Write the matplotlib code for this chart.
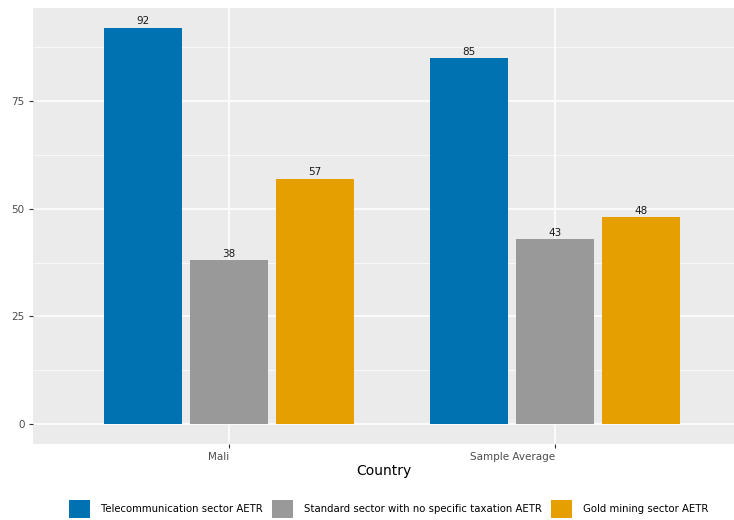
import matplotlib.pyplot as plt
import numpy as np
from matplotlib.patches import Patch

countries = ['Mali', 'Sample Average']
series = ['Telecommunication sector AETR',
          'Standard sector with no specific taxation AETR',
          'Gold mining sector AETR']
telecom = [92, 85]
standard = [38, 43]
gold = [57, 48]
colors = ['#0072B2', '#999999', '#E69F00']

values = [telecom, standard, gold]

fig = plt.figure(figsize=(7.34, 5.2), dpi=100)
ax = fig.add_axes([0.045, 0.146, 0.955, 0.839])
ax.set_facecolor('#EBEBEB')

x = np.arange(1, len(countries) + 1)
width = 0.24
step = 0.264
for i, (vals, col) in enumerate(zip(values, colors)):
    pos = x + (i - 1) * step
    ax.bar(pos, vals, width=width, color=col, zorder=3)
    for p, v in zip(pos, vals):
        ax.text(p, v + 0.3, str(v), ha='center', va='bottom', fontsize=7.5,
                color='#1a1a1a', zorder=4)

ax.set_xlim(0.399, 2.549)
ax.set_ylim(-4.6, 96.6)
ax.set_xticks(x)
ax.set_xticklabels(countries, ha='right')
ax.set_yticks([0, 25, 50, 75])
ax.set_yticks([12.5, 37.5, 62.5, 87.5], minor=True)
ax.grid(True, which='major', color='white', linewidth=1.1, zorder=0)
ax.grid(True, which='minor', axis='y', color='white', linewidth=0.5, zorder=0)
for s in ax.spines.values():
    s.set_visible(False)
ax.tick_params(which='major', length=3, color='#333333', labelcolor='#4d4d4d',
               labelsize=7.5, pad=3)
ax.tick_params(which='minor', length=0)
ax.set_xlabel('Country', fontsize=10, color='black', labelpad=1)

handles = [Patch(facecolor=c, label=s) for c, s in zip(colors, series)]
fig.legend(handles=handles, loc='center', bbox_to_anchor=(0.530, 0.021), ncol=3,
           frameon=False, fontsize=7.3, handlelength=2.05, handleheight=2.4,
           handletextpad=1.1, columnspacing=0.9, borderpad=0.2)

fig.savefig('out.png', dpi=100)
